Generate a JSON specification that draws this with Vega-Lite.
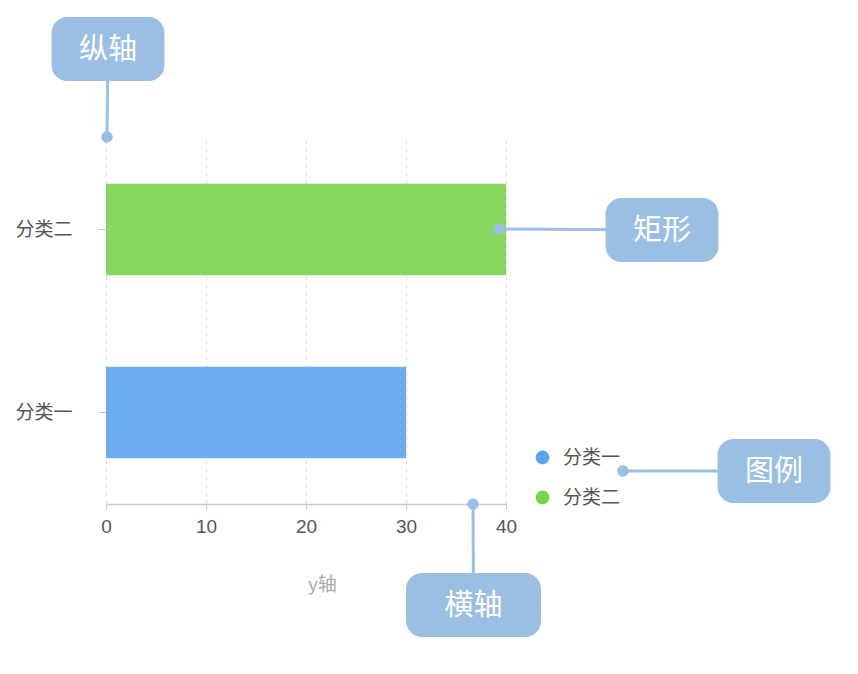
{
  "$schema": "https://vega.github.io/schema/vega-lite/v6.json",
  "autosize": {"type": "none"},
  "width": 400,
  "height": 366,
  "padding": {"left": 106, "top": 138, "right": 352, "bottom": 170},
  "background": "#ffffff",
  "config": {
    "view": {"stroke": null},
    "font": "Liberation Sans, Noto Sans CJK SC, sans-serif",
    "axis": {
      "labelFont": "Liberation Sans, Noto Sans CJK SC, sans-serif",
      "titleFont": "Liberation Sans, Noto Sans CJK SC, sans-serif",
      "labelFontSize": 19,
      "labelColor": "#555555",
      "domainColor": "#cccccc",
      "tickColor": "#cccccc"
    },
    "legend": {
      "labelFont": "Liberation Sans, Noto Sans CJK SC, sans-serif",
      "labelFontSize": 19,
      "labelColor": "#555555"
    }
  },
  "datasets": {
    "bars": [
      {"category": "分类一", "value": 30},
      {"category": "分类二", "value": 40}
    ],
    "notes": [
      {"label": "纵轴", "px": 0.1, "py": 36.7, "bx": 0.2, "by": 45.5},
      {"label": "矩形", "px": 39.3, "py": 27.5, "bx": 55.6, "by": 27.4},
      {"label": "图例", "px": 51.7, "py": 3.3, "bx": 66.8, "by": 3.3},
      {"label": "横轴", "px": 36.7, "py": 0, "bx": 36.75, "by": -10.1}
    ]
  },
  "resolve": {"scale": {"y": "independent"}},
  "layer": [
    {
      "data": {"name": "bars"},
      "mark": {"type": "bar", "fillOpacity": 0.9},
      "encoding": {
        "y": {
          "field": "category",
          "type": "nominal",
          "sort": ["分类二", "分类一"],
          "scale": {"paddingInner": 0.5, "paddingOuter": 0.25},
          "axis": {
            "title": null,
            "domain": false,
            "grid": false,
            "tickSize": 8,
            "labelPadding": 26
          }
        },
        "x": {
          "field": "value",
          "type": "quantitative",
          "scale": {"domain": [0, 40], "nice": false},
          "axis": {
            "title": "y轴",
            "titleColor": "#aaaaaa",
            "titleFontSize": 19,
            "titleFontWeight": "normal",
            "titleX": 216,
            "titleY": 71,
            "titleBaseline": "top",
            "titleAlign": "center",
            "values": [0, 10, 20, 30, 40],
            "labelFlush": false,
            "tickSize": 5,
            "labelPadding": 8,
            "domainWidth": 1.5,
            "grid": true,
            "gridColor": "#dddddd",
            "gridDash": [4, 4],
            "gridWidth": 1.2
          }
        },
        "color": {
          "field": "category",
          "type": "nominal",
          "scale": {"domain": ["分类一", "分类二"], "range": ["#5ba4ec", "#7ad24b"]},
          "legend": {
            "title": null,
            "orient": "none",
            "legendX": 427,
            "legendY": 310,
            "symbolType": "circle",
            "symbolSize": 190,
            "symbolOpacity": 1,
            "symbolStrokeWidth": 0,
            "labelOffset": 11,
            "rowPadding": 20
          }
        }
      }
    },
    {
      "data": {"name": "notes"},
      "mark": {"type": "rule", "color": "#9bbfe3", "strokeWidth": 3},
      "encoding": {
        "x": {"field": "px", "type": "quantitative", "scale": {"domain": [0, 40], "nice": false}},
        "x2": {"field": "bx"},
        "y": {"field": "py", "type": "quantitative", "scale": {"domain": [0, 36.6], "nice": false, "zero": false}, "axis": null},
        "y2": {"field": "by"}
      }
    },
    {
      "data": {"name": "notes"},
      "mark": {"type": "point", "shape": "circle", "filled": true, "opacity": 1, "color": "#9bbfe3", "size": 135},
      "encoding": {
        "x": {"field": "px", "type": "quantitative", "scale": {"domain": [0, 40], "nice": false}},
        "y": {"field": "py", "type": "quantitative", "scale": {"domain": [0, 36.6], "nice": false, "zero": false}, "axis": null}
      }
    },
    {
      "data": {"name": "notes"},
      "mark": {"type": "point", "filled": true, "opacity": 1, "color": "#9bbfe3", "size": 18225},
      "encoding": {
        "x": {"field": "bx", "type": "quantitative", "scale": {"domain": [0, 40], "nice": false}},
        "y": {"field": "by", "type": "quantitative", "scale": {"domain": [0, 36.6], "nice": false, "zero": false}, "axis": null},
        "shape": {
          "field": "label",
          "type": "nominal",
          "legend": null,
          "scale": {
            "domain": ["纵轴", "矩形", "图例", "横轴"],
            "range": [
              "M -0.6 -0.4741 H 0.6 A 0.237 0.237 0 0 1 0.837 -0.2371 V 0.2371 A 0.237 0.237 0 0 1 0.6 0.4741 H -0.6 A 0.237 0.237 0 0 1 -0.837 0.2371 V -0.2371 A 0.237 0.237 0 0 1 -0.6 -0.4741 Z",
              "M -0.6 -0.4741 H 0.6 A 0.237 0.237 0 0 1 0.837 -0.2371 V 0.2371 A 0.237 0.237 0 0 1 0.6 0.4741 H -0.6 A 0.237 0.237 0 0 1 -0.837 0.2371 V -0.2371 A 0.237 0.237 0 0 1 -0.6 -0.4741 Z",
              "M -0.6 -0.4741 H 0.6 A 0.237 0.237 0 0 1 0.837 -0.2371 V 0.2371 A 0.237 0.237 0 0 1 0.6 0.4741 H -0.6 A 0.237 0.237 0 0 1 -0.837 0.2371 V -0.2371 A 0.237 0.237 0 0 1 -0.6 -0.4741 Z",
              "M -0.763 -0.4741 H 0.763 A 0.237 0.237 0 0 1 1 -0.2371 V 0.2371 A 0.237 0.237 0 0 1 0.763 0.4741 H -0.763 A 0.237 0.237 0 0 1 -1 0.2371 V -0.2371 A 0.237 0.237 0 0 1 -0.763 -0.4741 Z"
            ]
          }
        }
      }
    },
    {
      "data": {"name": "notes"},
      "mark": {"type": "text", "color": "#ffffff", "fontSize": 29, "font": "Noto Sans CJK SC", "align": "center", "baseline": "middle", "dy": 1},
      "encoding": {
        "x": {"field": "bx", "type": "quantitative", "scale": {"domain": [0, 40], "nice": false}},
        "y": {"field": "by", "type": "quantitative", "scale": {"domain": [0, 36.6], "nice": false, "zero": false}, "axis": null},
        "text": {"field": "label", "type": "nominal"}
      }
    }
  ]
}
